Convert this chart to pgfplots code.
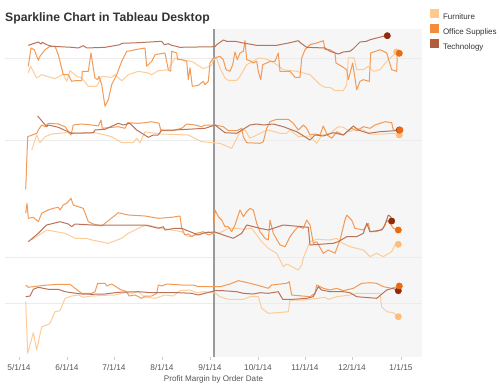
\documentclass[border=0pt]{standalone}
\usepackage{pgfplots}
\pgfplotsset{compat=1.18}
\usepackage{fontspec}
\setmainfont{Liberation Sans}
\definecolor{FurnLine}{HTML}{FDCC98}
\definecolor{OffLine}{HTML}{F39A55}
\definecolor{TechLine}{HTML}{B8735A}
\definecolor{FurnDot}{HTML}{FDBE7D}
\definecolor{OffDot}{HTML}{EE6A12}
\definecolor{TechDot}{HTML}{8E2B0B}
\definecolor{FurnLeg}{HTML}{FFC98E}
\definecolor{OffLeg}{HTML}{F28D3C}
\definecolor{TechLeg}{HTML}{B35C3D}
\definecolor{Shade}{HTML}{F6F6F6}
\definecolor{Grid}{HTML}{ECECEC}
\definecolor{VLine}{HTML}{9A9A9A}
\definecolor{TitleC}{HTML}{333333}
\definecolor{LabC}{HTML}{555555}
\begin{document}
\begin{tikzpicture}[x=1pt,y=1pt]
\useasboundingbox (0,0) rectangle (500,388);
\node[anchor=base west, inner sep=0pt, text=TitleC, font=\bfseries\fontsize{12.2}{14}\selectfont] at (5,366) {Sparkline Chart in Tableau Desktop};
\begin{axis}[
  at={(5pt,31pt)}, anchor=south west,
  scale only axis, width=417pt, height=328pt,
  xmin=5, xmax=422, ymin=29, ymax=357, y dir=reverse,
  axis line style={draw=none},
  ytick=\empty,
  xtick={19,67,114,162,210,258,305,352,401},
  xticklabels={5/1/14,6/1/14,7/1/14,8/1/14,9/1/14,10/1/14,11/1/14,12/1/14,1/1/15},
  xtick pos=bottom, tick align=outside, major tick length=3pt,
  xtick style={draw=gray!40, line width=0.6pt},
  /pgf/number format/assume math mode=true,
  xticklabel style={font=\fontsize{8.3}{10}\selectfont, text=LabC, inner sep=0pt, yshift=-4.5pt},
  xlabel={Profit Margin by Order Date},
  xlabel style={font=\fontsize{8.1}{10}\selectfont, text=LabC, inner sep=0pt, yshift=-5pt},
  legend style={at={(axis description cs:1.01918,1.06098)}, anchor=north west,
    draw=none, fill=none, inner sep=0pt, outer sep=0pt, row sep=0pt, column sep=2pt,
    font=\fontsize{8.0}{10}\selectfont, text=TitleC,
    nodes={inner xsep=2pt, inner ysep=0pt, text height=10.5pt, text depth=4.5pt}},
  legend cell align=left,
  legend image code/.code={\fill[#1] (0pt,-1.5pt) rectangle (9pt,7.5pt);},
  furn/.style={FurnLine, line width=1.0pt, line join=round, no marks, forget plot},
  off/.style={OffLine, line width=1.0pt, line join=round, no marks, forget plot},
  tech/.style={TechLine, line width=1.0pt, line join=round, no marks, forget plot},
]
\fill[Shade] (axis cs:214,29) rectangle (axis cs:422,357);
\draw[Grid, line width=0.8pt] (axis cs:5,58) -- (axis cs:422,58);
\draw[Grid, line width=0.8pt] (axis cs:5,140) -- (axis cs:422,140);
\draw[Grid, line width=0.8pt] (axis cs:5,257) -- (axis cs:422,257);
\draw[Grid, line width=0.8pt] (axis cs:5,303) -- (axis cs:422,303);
\draw[VLine, line width=1.2pt] (axis cs:214,29) -- (axis cs:214,357);

% Band 1
\addplot[furn] coordinates {(28.3,73)(30.5,66)(36.7,78)(41.7,74.7)(46.7,76.3)(55,78.7)(63.3,74)(66.7,81.3)(70,70.7)(76.7,76.3)(81.7,78)(88.3,86.3)(96.7,86.3)(101.7,76.3)(111.7,77.3)(115,74.7)(121.7,80.7)(128.3,74.7)(138.3,71.3)(148.3,73)(151.7,74.7)(158.3,70.7)(168.3,69.7)(175,58)(181.7,59.7)(191.7,61.3)(203.3,68.7)(211.7,65.3)(213.3,59.7)(216.7,58.5)(220,68)(225,78)(228.3,80.3)(236.7,80.3)(240,76.3)(246.7,64.7)(253.3,61.3)(258.3,58)(265,58.7)(271.7,61.3)(276.7,64.7)(283.3,69.7)(296.7,71.3)(310,74.7)(320,84.7)(325,87.3)(330,87.3)(335,90.7)(343.3,90.7)(346.7,84.7)(348.3,58)(354,58)(356.7,69.7)(363.3,69.7)(368.3,66.3)(373.3,71.3)(380,69.7)(386.7,61.3)(396.7,52)};
\addplot[off] coordinates {(28.3,66.3)(31,48)(34.3,49.7)(38.3,60.3)(40,56.3)(45,49.7)(50,46.3)(55,46.3)(58.3,54.7)(63.3,74.7)(68.3,74.7)(71.7,81.3)(75,80.7)(81.7,80.7)(82.3,71.3)(88.3,71.3)(91,53)(93.3,68)(95,78)(97.7,79.7)(99,76.3)(101.7,84.7)(105,106.3)(108.3,99.7)(111.7,84.7)(116.7,74.7)(121.7,61.3)(126.7,51.3)(131,50.7)(135,49.7)(145,48)(146.7,66.3)(151.7,61.3)(155,54.7)(165,53)(168.3,69.7)(170.7,71.3)(171.7,51.3)(176.7,53)(177.7,59.7)(181.7,59.7)(186.7,61.3)(188.3,79.7)(190,68)(192.3,86.3)(198.3,85.3)(203.3,81.3)(205,84.7)(208.3,81.3)(210,63)(213.3,58)(216.7,57.3)(220,56.3)(223.3,59.7)(226,69.7)(230,71.3)(232.7,64.7)(235,52)(237.3,59.7)(240,53)(243.3,51.3)(245,40.7)(246.7,59.7)(250,60.7)(253.3,63)(256.7,61.3)(258.3,71.3)(260.7,79.7)(262.7,64.7)(266.7,63)(270,61.3)(275,61.3)(278.3,53)(280,71.3)(290,71.3)(295,77.3)(300,77.3)(301.7,58)(305,49.7)(310,44.7)(316.7,43)(323.3,40.7)(325,49.7)(330,49.7)(335,53)(336,63)(341.7,66.3)(346.7,69.7)(348.3,79.7)(352.7,63)(356.7,89.7)(360,81.3)(363.3,79.7)(369.3,81.3)(370.7,53)(380,49.7)(386.7,53)(391.7,69.7)(396.7,71.3)(397.3,53)(399.3,53.3)};
\addplot[tech] coordinates {(28.3,45.3)(38.3,42)(41,44)(42.3,42.3)(46.7,44.7)(51.7,46.3)(71.7,47.3)(78.3,48)(83.3,45.7)(86.7,48)(105,47.3)(120,44.7)(121.7,43.3)(138.3,42.7)(161.7,41.3)(164.3,44.7)(168.3,43.7)(171.7,45.3)(180,47.3)(215,46.7)(216.7,44.7)(223.3,40)(226.7,41.3)(235,41.3)(243.3,43)(256.7,45.3)(276.7,45.3)(290,42.7)(298.3,40.7)(300.7,43)(306.7,47.3)(325,48)(330,51.3)(338.3,54)(343.3,52)(350,51.3)(353.3,48.7)(360,42)(366.7,41.3)(370,39.7)(376.7,38)(383.3,36.3)(387.3,35.7)};

% Band 2
\addplot[furn] coordinates {(31.7,150)(36.7,135)(40,142.7)(45,136.7)(51.7,134)(65,132.7)(85,133.3)(95,132.7)(105,135)(111.7,136.7)(121.7,142.7)(133.3,142.7)(136.7,138.3)(140,142.7)(145,131.7)(155,133.3)(161.7,134)(188.3,135)(201.7,141.7)(220,143.3)(231.7,148.3)(240,131.7)(245,130)(250,138.3)(263.3,131.7)(268.3,130)(280,133.3)(286.7,133.3)(290,130)(298.3,136.7)(310,136)(316.7,143.3)(321.7,135)(330,133.3)(338.3,126.7)(343.3,127.3)(350,131.7)(356.7,128.3)(363.3,130)(370,134)(383.3,134)(393.3,133.3)(399.3,135)};
\addplot[off] coordinates {(25.7,189.3)(27.7,136.7)(36.7,133.3)(38.3,130)(41.7,125)(45,126.7)(48.3,123.3)(58.3,124)(65,126.7)(71,135)(73.3,125)(81.7,124)(91.7,125)(98.3,126)(101,120)(102.3,128.3)(111.7,127.3)(118.3,126.7)(125,128.3)(127.7,122.7)(138.3,123.3)(145,122.7)(151.7,121.7)(159,123.3)(161,130.7)(171.7,130.7)(181.7,128.3)(186.7,124)(195,125)(201.7,126.7)(205,125)(215,125)(223.3,126.7)(228.3,130.7)(236.7,130.7)(241.7,128.3)(243.3,136.7)(246.7,142.7)(260,143.3)(263.3,141.7)(266.7,128.3)(270,121.7)(276.7,119.3)(288.3,119.3)(293.3,123.3)(298.3,130)(303.3,125)(306.7,128.3)(310,135)(315,134)(320,135)(323.3,126)(327.3,135)(331.7,138.3)(336.7,131.7)(343.3,135)(351.7,128.3)(356.7,130.7)(363.3,126.7)(370,128.3)(375,125)(385,121.7)(391.7,122.7)(393.3,130)(400,130)};
\addplot[tech] coordinates {(37.7,116)(46.7,126.7)(48.3,125)(58.3,127.3)(71.7,133.3)(93.3,132.7)(95,130)(105,129.3)(118.3,123.3)(123.3,125)(130,123.3)(136.7,130)(148.3,137.3)(153.3,135)(158.3,135)(161.7,130)(175,130)(205,128.3)(215,125)(225,132.7)(236.7,133.3)(250,125)(256.7,124)(263.3,125)(273.3,124)(283.3,126.7)(296.7,131.7)(310,140)(315,135)(323.3,136)(333.3,132.7)(343.3,135)(353.3,126)(358.3,130)(368.3,133.3)(380,131.7)(395,130.7)(399.3,130)};

% Band 3
\addplot[furn] coordinates {(31.7,240)(46.7,230)(65,233.3)(75,238.3)(86.7,238.3)(91.7,240)(108.3,243.3)(121.7,238.3)(128.3,233.3)(141.7,226.7)(148.3,225)(161.7,228.3)(181.7,231.7)(188.3,236.7)(196.7,235)(208.3,231.7)(215,233.3)(220,232.7)(228.3,228.3)(236.7,228.3)(243.3,229.3)(251.7,228.3)(261.7,241.7)(268.3,248.3)(276.7,253.3)(280,260)(283.3,266.7)(286.7,264)(298.3,270)(301.7,265)(303.3,258)(310,241.7)(316.7,239.3)(330,240)(336.7,238.3)(340,241.7)(350,246.7)(363.3,250)(370,256.7)(376.7,253.3)(383.3,256.7)(391.7,251.7)(395,245)(398.3,244.3)};
\addplot[off] coordinates {(25.7,213.3)(27,203.3)(28.3,218.3)(33.3,217.3)(38.3,221.7)(41.7,213.3)(48.3,210)(53.3,208.3)(58.3,207.3)(60,210)(63.3,205)(66.7,203.3)(71,198.3)(73.3,205)(78.3,206.7)(83.3,208.3)(88.3,221.7)(93.3,224)(101.7,226)(118.3,212.7)(128.3,215)(145,216)(158.3,218.3)(171.7,217.3)(180,216)(181.7,228.3)(185,235)(188.3,234)(191.7,236.7)(196.7,233.3)(203.3,231.7)(208.3,235)(213.3,233.3)(215,210)(218.3,216.7)(221.7,220)(225,226.7)(228.3,226.7)(231.7,231.7)(235,225)(240,210)(243.3,216.7)(246.7,211.7)(250,208.3)(253.3,210)(256.7,223.3)(260,231.7)(265,238.3)(268.3,240)(270,220)(273.3,233.3)(280,245)(285,246.7)(290,236.7)(295,230)(298.3,226.7)(303.3,228.3)(306.7,220)(310,225)(313.3,243.3)(316.7,241.7)(323.3,253.3)(328.3,250)(335,253.3)(340,240)(345,220)(346.7,215)(351.7,220)(355,228.3)(363.3,230)(368.3,223.3)(370,231.7)(376.7,231.7)(383.3,228.3)(386.7,220)(390,223.3)(393.3,228.3)(398.3,230)};
\addplot[tech] coordinates {(28.3,241.7)(38.3,233.3)(46.7,225)(60,221.7)(68.3,224)(71.7,226.7)(75,224)(91.7,225)(145,225)(158.3,228.3)(163.3,226.7)(165,230)(175,228.3)(181.7,228.3)(198.3,235)(205,232.7)(215,232)(223.3,235)(233.3,238.3)(241.7,233.3)(246.7,225)(260,228.3)(268.3,230)(283.3,225)(308.3,227.3)(310,245)(333.3,243.3)(338.3,241.7)(346.7,236.7)(356.7,236.7)(363.3,233.3)(366.7,223.3)(370,231.7)(381.7,230)(385,225)(388.3,215)(390.7,216.7)(391.7,221)};

% Band 4
\addplot[furn] coordinates {(25.7,301.7)(27.7,353.3)(33.3,332.7)(36.7,350)(41.7,326.7)(46.7,325)(50,323.3)(55,311.7)(60,310.7)(65,298.3)(71.7,296)(78.3,295)(83.3,297.3)(91.7,296)(105,295.3)(115,295)(125,292.7)(131.7,293.3)(138.3,291.7)(145,297.3)(155,298.3)(165,295)(173.3,296)(180,290.7)(190,290)(196.7,292.7)(205,291.7)(215,293)(220,296.7)(228.3,299.3)(243.3,299.3)(250,296.7)(258.3,296.7)(261.7,308.3)(268.3,313.3)(276.7,312.7)(288.3,311.7)(290,300)(303.3,300)(310,299.3)(325,297.3)(328.3,299.3)(336.7,296.7)(350,295)(356.7,293.3)(380,293.3)(381.7,306.7)(386.7,311.7)(393.3,312.7)(398.3,316.7)};
\addplot[off] coordinates {(25.7,285)(28.3,287.3)(38.3,286)(48.3,285)(58.3,284.3)(70,284.3)(75,288.3)(81.7,293.3)(91.7,293.3)(95,291.7)(97.7,283.3)(105,283.3)(106.7,286)(111.7,284)(120,289.3)(126.7,291.7)(129,296)(135,295)(138.3,296.7)(141.7,298.3)(145,296)(151.7,296)(156.7,293.3)(158.3,285)(161.7,286)(166.7,284)(181.7,285)(193.3,285)(198.3,286.7)(215,286.7)(220,286.7)(230,284)(238.3,280.7)(243.3,281.7)(256.7,285)(268.3,288.3)(271.7,285)(286.7,283.3)(289.3,281.7)(291.7,295)(310,296.7)(315,293.3)(316.7,285)(323.3,288.3)(330,290)(336.7,288.3)(343.3,290.7)(353.3,288.3)(361.7,283.3)(370,282.7)(376.7,283.3)(383.3,286.7)(391.7,288.3)(399.3,286)};
\addplot[tech] coordinates {(25.7,296.7)(30,296)(33.3,289.3)(38.3,287.3)(43.3,288.3)(48.3,289.3)(58.3,289.3)(65,291.7)(71.7,292.7)(81.7,294)(91.7,294.3)(105,294)(118.3,292.3)(138.3,291.7)(151.7,292.7)(178.3,292.7)(191.7,293.3)(198.3,295)(205,293.3)(215,290.7)(223.3,290.7)(236.7,291.7)(243.3,293.3)(253.3,294)(260,292.7)(268.3,293.3)(278.3,291.7)(282.7,299.3)(293.3,299.3)(306.7,298.3)(313.3,296.7)(318.3,286.7)(321.7,290)(330,291.7)(343.3,291.7)(350,292.7)(356.7,296.7)(376.7,298.3)(386.7,290)(392.7,288.3)(398.3,290.7)};

% End dots
\addplot[only marks, mark=*, mark size=3.2pt, FurnDot, forget plot] coordinates {(396.7,52)(399.3,135)(398.3,244.3)(398.3,316.7)};
\addplot[only marks, mark=*, mark size=3.2pt, TechDot, forget plot] coordinates {(387.3,35.7)(399.3,130)(391.7,221)(398.3,290.7)};
\addplot[only marks, mark=*, mark size=3.2pt, OffDot, forget plot] coordinates {(399.3,53.3)(400,130)(398.3,230)(399.3,286)};

\addlegendimage{fill=FurnLeg, draw=none}
\addlegendentry{Furniture}
\addlegendimage{fill=OffLeg, draw=none}
\addlegendentry{Office Supplies}
\addlegendimage{fill=TechLeg, draw=none}
\addlegendentry{Technology}
\end{axis}
\end{tikzpicture}
\end{document}
